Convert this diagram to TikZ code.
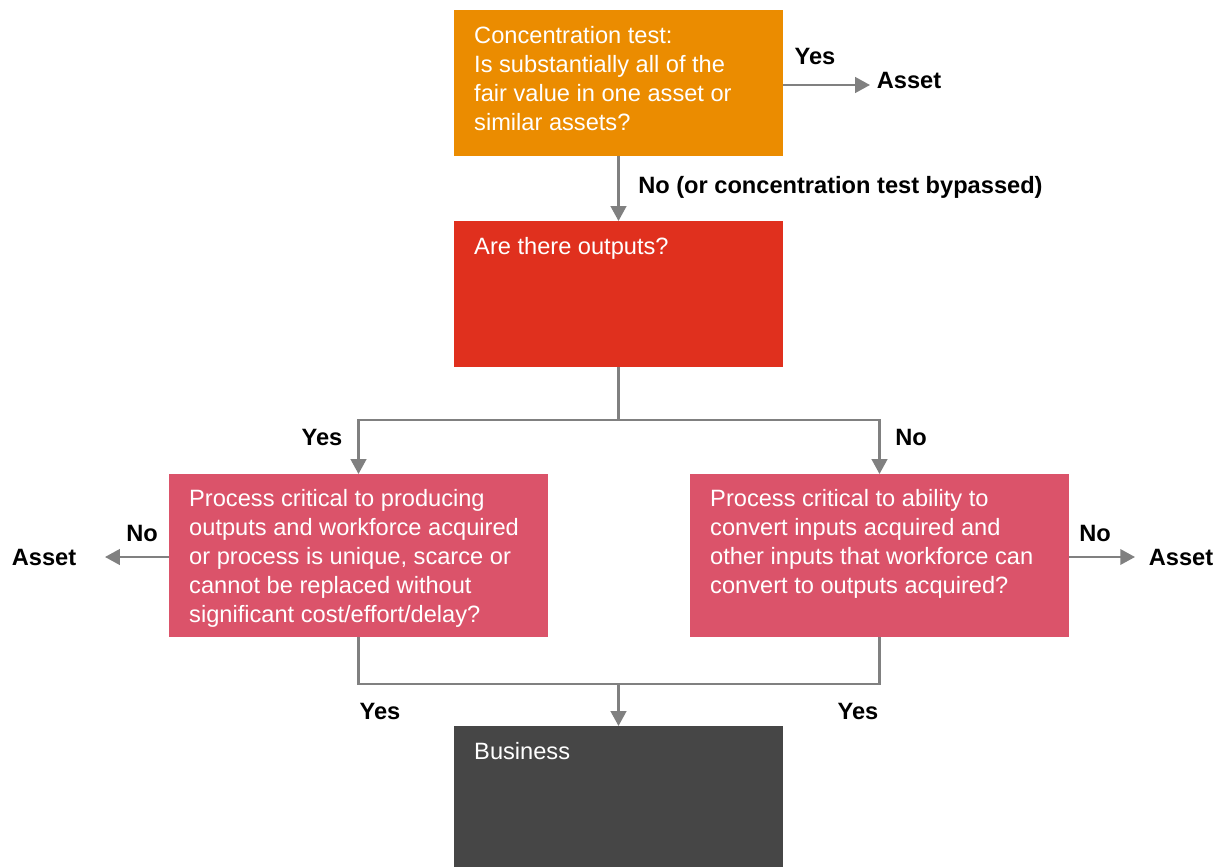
\documentclass[tikz,border=0pt]{standalone}
\usepackage{fontspec}
\setmainfont{Liberation Sans}
\usetikzlibrary{arrows.meta,calc}
\definecolor{pwcorange}{HTML}{EB8C00}
\definecolor{pwcred}{HTML}{E0301E}
\definecolor{pwcpink}{HTML}{DB536A}
\definecolor{pwcdark}{HTML}{464646}
\definecolor{linegray}{HTML}{808080}
\begin{document}
\begin{tikzpicture}[x=0.025cm,y=-0.025cm,
  midbox/.style={rectangle, inner sep=0pt, outer sep=0pt, minimum width=8.225cm, minimum height=3.65cm},
  widebox/.style={rectangle, inner sep=0pt, outer sep=0pt, minimum width=9.475cm, minimum height=4.075cm},
  txt/.style={text=white, align=left, inner sep=0pt, anchor=north west, font=\fontsize{16.8}{20.6}\selectfont},
  lbl/.style={font=\bfseries\fontsize{16.8}{20.6}\selectfont, inner sep=0pt, anchor=base},
  conn/.style={draw=linegray, line width=1.7pt},
  arr/.style={conn, -{Triangle[length=10.5pt,width=11pt]}}]
\useasboundingbox (0,0) rectangle (1221,867);
\clip (0,0) rectangle (1221,867);

% boxes
\node[midbox, fill=pwcorange] (o) at (618.5,83) {};
\node[midbox, fill=pwcred] (r) at (618.5,294) {};
\node[widebox, fill=pwcpink] (L) at (358.5,555.5) {};
\node[widebox, fill=pwcpink] (R) at (879.5,555.5) {};
\node[midbox, fill=pwcdark, minimum height=3.525cm] (B) at (618.5,796.5) {};

% box texts
\node[txt] (ot) at ($(o.north west)+(20,16.5)$) {Concentration test:\\Is substantially all of the\\fair value in one asset or\\similar assets?};
\node[txt] (rt) at ($(r.north west)+(20,16.5)$) {Are there outputs?};
\node[txt] (Lt) at ($(L.north west)+(20,15.5)$) {Process critical to producing\\outputs and workforce acquired\\or process is unique, scarce or\\cannot be replaced without\\significant cost/effort/delay?};
\node[txt] (Rt) at ($(R.north west)+(20,15.5)$) {Process critical to ability to\\convert inputs acquired and\\other inputs that workforce can\\convert to outputs acquired?};
\node[txt] (Bt) at ($(B.north west)+(20,16.5)$) {Business};

% free ends and junctions
\coordinate (tA) at (870,85);
\coordinate (lA) at (105,557);
\coordinate (rA) at (1135,557);
\coordinate (j1) at (618.5,420);
\coordinate (j2) at (618.5,684);

% labels
\node[lbl] (yes1) at (815,64.5) {Yes};
\node[lbl] (asset1) at (909,88.5) {Asset};
\node[lbl, anchor=base west] (no1) at (638,193.5) {No (or concentration test bypassed)};
\node[lbl] (yes2) at (322,445.5) {Yes};
\node[lbl] (no2) at (911,445.5) {No};
\node[lbl] (no3) at (142,541.5) {No};
\node[lbl] (asset2) at (44,565.5) {Asset};
\node[lbl] (no4) at (1095,541.5) {No};
\node[lbl] (asset3) at (1181,565.5) {Asset};
\node[lbl] (yes3) at (380,719.5) {Yes};
\node[lbl] (yes4) at (858,719.5) {Yes};

% connectors
\draw[arr] (o.east |- tA) -- (tA);
\draw[arr] (o.south) -- (r.north);
\draw[conn] (r.south) -- (j1);
\draw[arr] (j1) -| (L.north);
\draw[arr] (j1) -| (R.north);
\draw[arr] (L.west |- lA) -- (lA);
\draw[arr] (R.east |- rA) -- (rA);
\draw[conn] (L.south) |- (j2);
\draw[conn] (R.south) |- (j2);
\draw[arr] (j2) -- (B.north);
\end{tikzpicture}
\end{document}
